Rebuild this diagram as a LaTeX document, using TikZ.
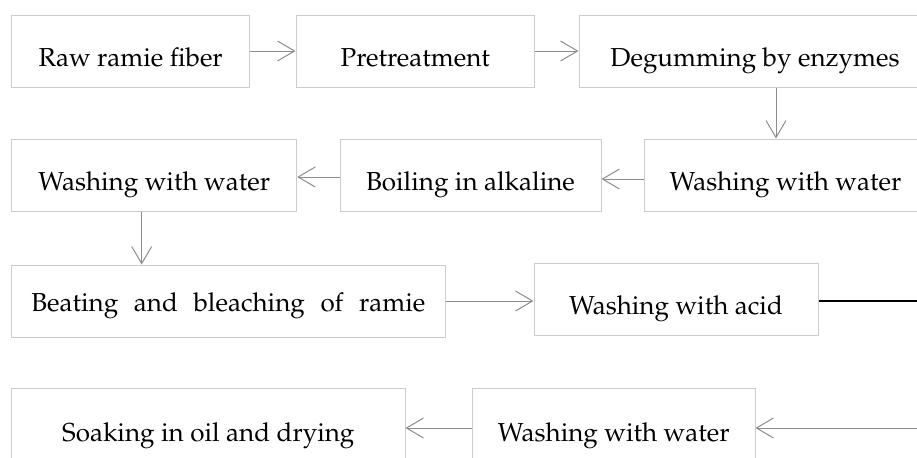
\documentclass[tikz,border=0pt]{standalone}
\usepackage[T1]{fontenc}
\usepackage{mathpazo}
\usetikzlibrary{arrows.meta,positioning,calc}

\begin{document}
\begin{tikzpicture}[x=0.5pt, y=-0.5pt, >={Straight Barb[length=8.5pt,width=10pt]},
    box/.style={rectangle, draw=gray!40, line width=0.5pt, minimum height=36pt, inner sep=0pt,
        text height=15.7pt, text depth=0pt, align=center, font=\fontsize{13}{15}\selectfont},
    flow/.style={->, draw=black!45, line width=0.5pt}]

    \useasboundingbox (0,0) rectangle (917,457);
    \clip (0,0) rectangle (917,457);

    % Row 1
    \node[box, minimum width=119pt] (raw) at (130.7,51) {Raw ramie fiber};
    \node[box, minimum width=119.3pt] (pretreat) at (415.3,51) {Pretreatment};
    \node[box, minimum width=176pt] (degum) at (755,51) {Degumming by enzymes};

    % Row 2
    \node[box, minimum width=142.5pt] (washA) at (154.2,175) {Washing with water};
    \node[box, minimum width=130.5pt] (boil) at (470.5,175) {Boiling in alkaline};
    \node[box, minimum width=141.5pt] (washB) at (785.5,175) {Washing with water};

    % Row 3
    \node[box, minimum width=216.7pt, text height=10.7pt] (beat) at (228.3,301) {\makebox[197pt][s]{Beating and bleaching of ramie}};
    \node[box, minimum width=142pt] (acid) at (676,299) {Washing with acid};

    % Row 4
    \node[box, minimum width=196.7pt, minimum height=38pt] (soak) at (208.3,426) {Soaking in oil and drying};
    \node[box, minimum width=141.2pt, minimum height=38pt] (washC) at (613.8,426) {Washing with water};

    \coordinate (acidout) at (930,301);
    \coordinate (washin) at (930,428);

    \draw[flow] (raw) -- (pretreat);
    \draw[flow] (pretreat) -- (degum);
    \draw[flow] ([xshift=10.5pt]degum.south) -- ([xshift=10.5pt]degum.south |- washB.north);
    \draw[flow] (washB.west |- 0,179) -- (boil.east |- 0,179);
    \draw[flow] (boil.west |- 0,177) -- (washA.east |- 0,177);
    \draw[flow] ([xshift=-6.25pt]washA.south) -- ([xshift=-6.25pt]washA.south |- beat.north);
    \draw[flow] (beat.east |- 0,301) -- (acid.west |- 0,301);
    \draw[line width=0.8pt] (acid.east |- acidout) -- (acidout);
    \draw[flow] (washin) -- (washC.east |- washin);
    \draw[flow] (washC.west |- washin) -- (soak.east |- washin);
\end{tikzpicture}
\end{document}
